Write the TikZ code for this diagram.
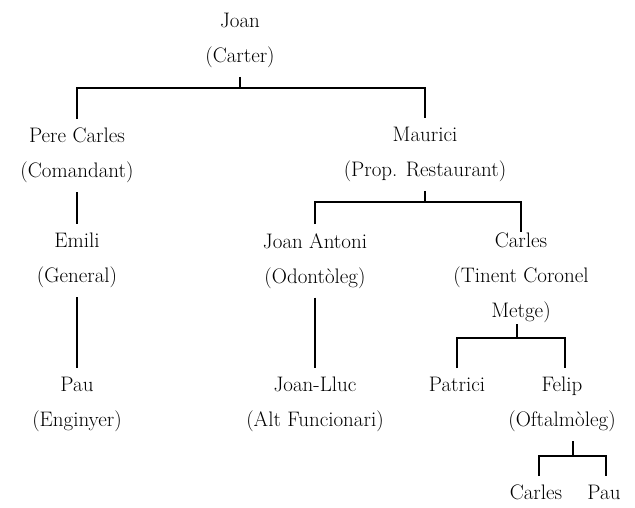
\documentclass[tikz,border=0pt]{standalone}
\usetikzlibrary{calc}

\begin{document}
\begin{tikzpicture}[x=1pt,y=-1pt,
    person/.style={align=center, inner xsep=2pt, inner ysep=9pt, anchor=north,
                   font=\fontsize{21}{35}\selectfont},
    link/.style={line width=1.6pt}]
    \useasboundingbox (0,0) rectangle (635,507);

    % Levels of the horizontal bars
    \coordinate (barA) at (0,88);
    \coordinate (barB) at (0,202);
    \coordinate (barC) at (0,338);
    \coordinate (barD) at (0,456);

    % First generation
    \node[person] (joan) at (240,4) {Joan\\(Carter)};

    % Second generation
    \node[person] (pere) at (77,119) {Pere Carles\\(Comandant)};
    \node[person] (maurici) at (425,118) {Maurici\\(Prop. Restaurant)};

    % Third generation
    \node[person] (emili) at (77,224) {Emili\\(General)};
    \node[person] (joanantoni) at (315,224) {Joan Antoni\\(Odontòleg)};
    \node[person, inner ysep=1pt] (carles) at (521,232) {Carles\\(Tinent Coronel\\Metge)};

    % Fourth generation
    \node[person] (pau) at (77,368) {Pau\\(Enginyer)};
    \node[person] (joanlluc) at (315,368) {Joan-Lluc\\(Alt Funcionari)};
    \node[person] (patrici) at (457,368) {Patrici};
    \node[person] (felip) at (562,368) {Felip\\(Oftalmòleg)};

    % Fifth generation
    \node[person] (carlesjr) at (536,476) {Carles};
    \node[person] (paujr) at (604,476) {Pau};

    % Joan -> Pere Carles, Maurici
    \draw[link] (joan.south) -- (joan.south |- barA);
    \draw[link] (pere.north) |- (maurici.north |- barA) -- (maurici.north);

    % Single lines
    \draw[link] (pere.south) -- (pere.south |- emili.north);
    \draw[link] (emili.south) -- (emili.south |- pau.north);
    \draw[link] (joanantoni.south) -- (joanantoni.south |- joanlluc.north);

    % Maurici -> Joan Antoni, Carles
    \draw[link] (maurici.south) -- (maurici.south |- barB);
    \draw[link] (joanantoni.north) |- (carles.north |- barB) -- (carles.north);

    % Carles -> Patrici, Felip
    \draw[link] ([xshift=-4pt]carles.south) -- ([xshift=-4pt]carles.south |- barC);
    \draw[link] (patrici.north) |- ([xshift=3pt]felip.north |- barC) -- ([xshift=3pt]felip.north);

    % Felip -> Carles, Pau
    \draw[link] ([xshift=11pt]felip.south) -- ([xshift=11pt]felip.south |- barD);
    \draw[link] ([xshift=3pt]carlesjr.north) |- ([xshift=2pt]paujr.north |- barD) -- ([xshift=2pt]paujr.north);

\end{tikzpicture}
\end{document}
